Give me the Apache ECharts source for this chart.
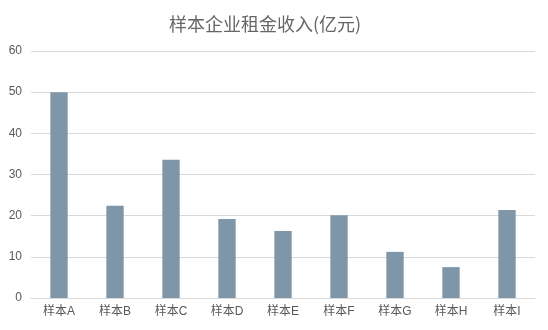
<!DOCTYPE html>
<html><head><meta charset="utf-8">
<script src="https://cdn.jsdelivr.net/npm/echarts@6/dist/echarts.min.js"></script>
<style>html,body{margin:0;padding:0;background:#fff}#c{width:548px;height:330px}</style>
</head><body><div id="c"></div>
<script>
var categories = ['样本A','样本B','样本C','样本D','样本E','样本F','样本G','样本H','样本I'];
var values = [50, 22.4, 33.6, 19.2, 16.3, 20.1, 11.2, 7.5, 21.4];
var yTicks = [0, 10, 20, 30, 40, 50, 60];
var chart = echarts.init(document.getElementById('c'), null, {renderer:'canvas'});
var font = '"Liberation Sans", "Noto Sans CJK SC", sans-serif';
chart.setOption({
  animation:false,
  backgroundColor:'#ffffff',
  title:{text:'样本企业租金收入(亿元)', left:260, textAlign:'center', top:10,
    textStyle:{fontSize:18, fontWeight:'normal', color:'#666666', fontFamily:'"Noto Sans CJK SC", sans-serif'}},
  grid:{left:31, right:13, top:51, bottom:32, containLabel:false},
  xAxis:{type:'category', data:categories,
    axisLine:{lineStyle:{color:'#d9d9d9'}}, axisTick:{show:false},
    axisLabel:{color:'#595959', fontSize:12, margin:8, fontFamily:font}},
  yAxis:{type:'value', min:yTicks[0], max:yTicks[yTicks.length-1], interval:10,
    axisLine:{show:false}, axisTick:{show:false},
    splitLine:{lineStyle:{color:'#d9d9d9'}},
    axisLabel:{color:'#595959', fontSize:12, margin:9, fontFamily:font}},
  series:[{type:'bar', data:values, barWidth:'31%', itemStyle:{color:'#7f96a9'}}]
});
</script></body></html>
